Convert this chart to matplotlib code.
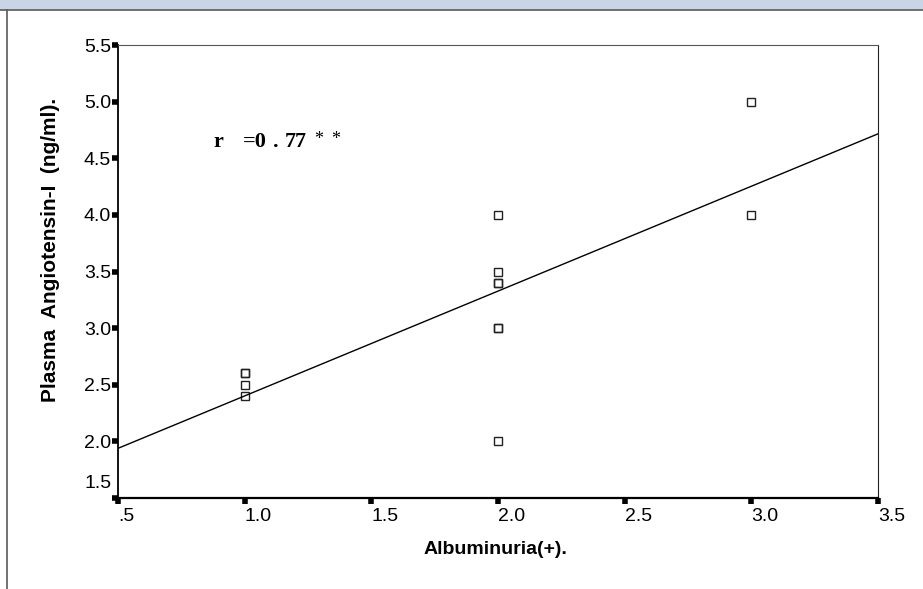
import numpy as np
import matplotlib.pyplot as plt
from matplotlib.patches import Rectangle
from matplotlib.lines import Line2D

# albuminuria grade vs plasma angiotensin-I (duplicates drawn twice)
albuminuria = [1, 1, 1, 1, 2, 2, 2, 2, 2, 2, 2, 3, 3]
angiotensin = [2.4, 2.5, 2.6, 2.6, 4.0, 3.5, 3.4, 3.4, 3.0, 3.0, 2.0, 5.0, 4.0]
xticks = [0.5, 1.0, 1.5, 2.0, 2.5, 3.0, 3.5]
xticklabels = ['.5', '1.0', '1.5', '2.0', '2.5', '3.0', '3.5']
yticks = [1.5, 2.0, 2.5, 3.0, 3.5, 4.0, 4.5, 5.0, 5.5]
# correlation note, drawn piece by piece (spaced like the original)
r_parts = ['r', '=0', '.', '77']
r_px = [213, 243, 273, 285]

W, H = 923, 589
fig = plt.figure(figsize=(W / 100, H / 100), dpi=100)

# window-like frame around the chart
band = 10
fig.patches.append(Rectangle((0, 1 - band / H), 1, band / H, transform=fig.transFigure,
                             facecolor='#c9d5e4', edgecolor='none'))
fig.lines.append(Line2D([0, 1], [1 - band / H] * 2, transform=fig.transFigure,
                        color='#5a5a5a', lw=1.2))
fig.lines.append(Line2D([7 / W] * 2, [0, 1 - band / H], transform=fig.transFigure,
                        color='#5a5a5a', lw=1.2))

ax = fig.add_axes([118 / W, 1 - 498 / H, 760 / W, 453 / H])

ax.plot(albuminuria, angiotensin, 's', ms=5.5, mfc='none', mec='#222222', mew=1.0)

# least squares fit line
slope, icept = np.polyfit(albuminuria, angiotensin, 1)
xs = np.array([0.5, 3.5])
ax.plot(xs, slope * xs + icept, color='black', lw=1.0)

ax.set_xlim(0.5, 3.5)
ax.set_ylim(1.5, 5.5)
ax.set_xticks(xticks)
ax.set_xticklabels(xticklabels, ha='left', fontfamily='Liberation Sans')
ax.set_yticks(yticks)
ylabs = [f'{v:.1f}' for v in yticks]
ax.set_yticklabels([''] + ylabs[1:], fontfamily='Liberation Sans')
ax.tick_params(axis='both', direction='out', length=4, width=4, color='black',
               labelsize=14, pad=1)
ax.tick_params(axis='x', pad=3)
# bottom y label sits raised above the corner in the original
ax.annotate(ylabs[0], xy=(0, yticks[0]), xycoords=('axes fraction', 'data'),
            xytext=(-6, 14), textcoords='offset pixels', ha='right', va='center',
            fontsize=14, fontfamily='Liberation Sans', annotation_clip=False)

ax.spines['top'].set_color('#555555')
ax.spines['right'].set_color('#222222')
ax.spines['left'].set_linewidth(1.3)
ax.spines['bottom'].set_linewidth(1.6)

fig.text(495 / W, 1 - 549 / H, 'Albuminuria(+).', ha='center', va='center',
         fontsize=14, fontweight='bold', fontfamily='Liberation Sans')
fig.text(51 / W, 1 - 250 / H, 'Plasma  Angiotensin-I  (ng/ml).', rotation=90,
         ha='center', va='center', fontsize=15, fontweight='bold',
         fontfamily='Liberation Sans')

for part, px in zip(r_parts, r_px):
    fig.text(px / W, 1 - 147 / H, part, fontsize=16, fontweight='bold',
             fontfamily='Liberation Serif', va='baseline')
for px in [314, 331]:
    fig.text(px / W, 1 - 131 / H, '*', fontsize=13,
             fontfamily='Liberation Serif', va='top')

fig.savefig('out.png', dpi=100)
